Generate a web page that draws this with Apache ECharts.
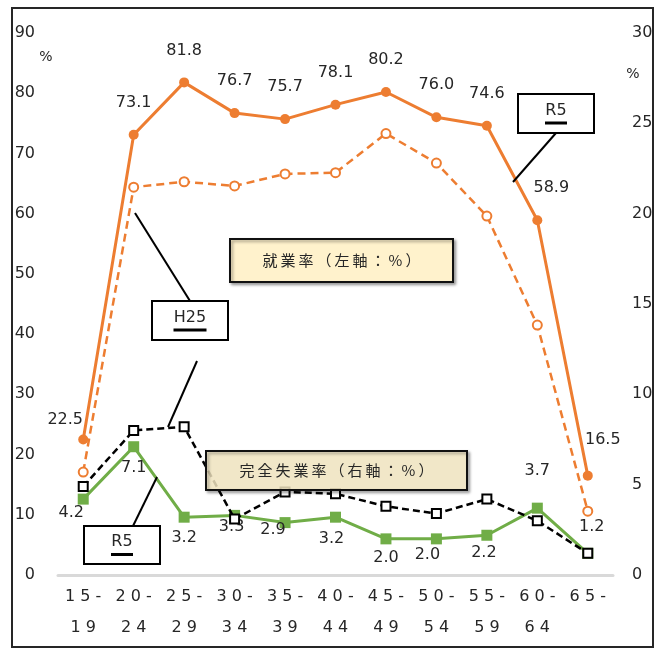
<!DOCTYPE html>
<html>
<head>
<meta charset="utf-8">
<script src="https://cdn.jsdelivr.net/npm/echarts@6/dist/echarts.min.js"></script>
<style>
    html, body { margin: 0; padding: 0; background: #fff; }
    #chart { width: 660px; height: 650px; }
</style>
</head>
<body>
<div id="chart"></div>
<script>
// 年齢階級
const categories = ['15-19', '20-24', '25-29', '30-34', '35-39', '40-44', '45-49', '50-54', '55-59', '60-64', '65-']
// 就業率（左軸：%）
const employR5 = [22.5, 73.1, 81.8, 76.7, 75.7, 78.1, 80.2, 76.0, 74.6, 58.9, 16.5]
const employH25 = [17.1, 64.4, 65.3, 64.6, 66.6, 66.8, 73.3, 68.4, 59.6, 41.5, 10.6]
// 完全失業率（右軸：%）
const unempR5 = [4.2, 7.1, 3.2, 3.3, 2.9, 3.2, 2.0, 2.0, 2.2, 3.7, 1.2]
const unempH25 = [4.9, 8.0, 8.2, 3.1, 4.6, 4.5, 3.8, 3.4, 4.2, 3.0, 1.2]
// 軸目盛
const leftTicks = { min: 0, max: 90, interval: 10 }
const rightTicks = { min: 0, max: 30, interval: 5 }

const ORANGE = '#ED7D31'
const GREEN = '#70AD47'
const TEXT = '#262626'
const NUM_FONT = '"DejaVu Sans", Verdana, sans-serif'
const JP_FONT = '"Noto Sans CJK JP", sans-serif'

// 個別ラベル位置の調整（index -> offset / position）
const employLabelFix = {
    0: { offset: [-18, 12] },
    9: { offset: [14, 0] },
    10: { offset: [15, -4] }
}
const unempLabelFix = {
    0: { offset: [-12, -5] },
    1: { offset: [0, 3] },
    2: { offset: [0, 2] },
    3: { offset: [-3, -7] },
    4: { offset: [-12, -11] },
    5: { offset: [-4, 3] },
    7: { offset: [-9, -3] },
    8: { offset: [-3, -1] },
    9: { position: 'top', distance: 24 },
    10: { position: 'top', distance: 13, offset: [4, 0] }
}

const withLabels = (arr, fix) =>
    arr.map((v, i) => (fix[i] ? { value: v, label: fix[i] } : v))

// 「15-19」→ 2段表示（字間を広めに）
const catFormatter = (val) => {
    const parts = val.split('-')
    const top = (parts[0] + '-').split('').join(' ')
    const bottom = parts[1] ? parts[1].split('').join(' ') : ''
    return top + '\n' + bottom
}
// 注記の字間
const spaced = (s) => s.split('').join('\u2009')

const labelBox = (x, y, w, h, text, uw) => [
    {
        type: 'rect', z: 20,
        shape: { x: x, y: y, width: w, height: h },
        style: { fill: '#fff', stroke: '#000', lineWidth: 2 }
    },
    {
        type: 'text', z: 21, x: x + w / 2, y: y + h / 2 - 3,
        style: { text: text, fill: TEXT, font: '16px ' + NUM_FONT, align: 'center', verticalAlign: 'middle' }
    },
    {
        type: 'rect', z: 21,
        shape: { x: x + w / 2 - uw / 2, y: y + h / 2 + 8, width: uw, height: 3 },
        style: { fill: '#000' }
    }
]
const leader = (x1, y1, x2, y2) => ({
    type: 'line', z: 20,
    shape: { x1: x1, y1: y1, x2: x2, y2: y2 },
    style: { stroke: '#000', lineWidth: 2 }
})
const noteBox = (x, y, w, h, text, fill) => [
    {
        type: 'rect', z: 18,
        shape: { x: x, y: y, width: w, height: h },
        style: {
            fill: fill, stroke: '#111', lineWidth: 2,
            shadowColor: 'rgba(0,0,0,0.35)', shadowBlur: 3, shadowOffsetX: 2, shadowOffsetY: 2
        }
    },
    {
        type: 'text', z: 19, x: x + w / 2, y: y + h / 2,
        style: { text: spaced(text), fill: TEXT, font: '15px ' + JP_FONT, align: 'center', verticalAlign: 'middle' }
    }
]

const chart = echarts.init(document.getElementById('chart'))
const option = {
    animation: false,
    backgroundColor: '#fff',
    grid: { left: 58, right: 47, top: 33, bottom: 75 },
    xAxis: {
        type: 'category',
        data: categories,
        boundaryGap: true,
        axisTick: { show: false },
        axisLine: { lineStyle: { color: '#d9d9d9', width: 3 } },
        axisLabel: {
            formatter: catFormatter,
            color: TEXT,
            fontFamily: NUM_FONT,
            fontSize: 16,
            lineHeight: 31,
            margin: 6,
            interval: 0
        }
    },
    yAxis: [
        {
            type: 'value',
            min: leftTicks.min, max: leftTicks.max, interval: leftTicks.interval,
            splitLine: { show: false },
            axisLine: { show: false },
            axisTick: { show: false },
            axisLabel: { color: TEXT, fontFamily: NUM_FONT, fontSize: 16, margin: 23 }
        },
        {
            type: 'value',
            position: 'right',
            min: rightTicks.min, max: rightTicks.max, interval: rightTicks.interval,
            splitLine: { show: false },
            axisLine: { show: false },
            axisTick: { show: false },
            axisLabel: { color: TEXT, fontFamily: NUM_FONT, fontSize: 16, margin: 19 }
        }
    ],
    series: [
        {
            name: '就業率H25',
            type: 'line',
            yAxisIndex: 0,
            data: employH25,
            symbol: 'emptyCircle',
            symbolSize: 9,
            itemStyle: { color: ORANGE, borderWidth: 2 },
            lineStyle: { color: ORANGE, width: 2.5, type: [8, 5] },
            z: 3
        },
        {
            name: '就業率R5',
            type: 'line',
            yAxisIndex: 0,
            data: withLabels(employR5, employLabelFix),
            symbol: 'circle',
            symbolSize: 10,
            itemStyle: { color: ORANGE },
            lineStyle: { color: ORANGE, width: 3 },
            label: {
                show: true, position: 'top', distance: 19,
                color: TEXT, fontFamily: NUM_FONT, fontSize: 16,
                formatter: (p) => p.value.toFixed(1)
            },
            z: 4
        },
        {
            name: '完全失業率R5',
            type: 'line',
            yAxisIndex: 1,
            data: withLabels(unempR5, unempLabelFix),
            symbol: 'rect',
            symbolSize: 11,
            itemStyle: { color: GREEN },
            lineStyle: { color: GREEN, width: 3 },
            label: {
                show: true, position: 'bottom', distance: 5,
                color: TEXT, fontFamily: NUM_FONT, fontSize: 16,
                formatter: (p) => p.value.toFixed(1)
            },
            z: 3
        },
        {
            name: '完全失業率H25',
            type: 'line',
            yAxisIndex: 1,
            data: unempH25,
            symbol: 'emptyRect',
            symbolSize: 9,
            itemStyle: { color: '#000', borderWidth: 2 },
            lineStyle: { color: '#000', width: 2.5, type: [7, 4] },
            z: 5
        }
    ],
    graphic: [
        {
            type: 'rect', z: 30,
            shape: { x: 12, y: 8, width: 641, height: 639 },
            style: { fill: 'none', stroke: '#262626', lineWidth: 2 }
        },
        {
            type: 'text', x: 46, y: 57,
            style: { text: '%', fill: TEXT, font: '14px ' + NUM_FONT, align: 'center', verticalAlign: 'middle' }
        },
        {
            type: 'text', x: 633, y: 74,
            style: { text: '%', fill: TEXT, font: '14px ' + NUM_FONT, align: 'center', verticalAlign: 'middle' }
        },
        ...noteBox(230, 239, 223, 43, '就業率（左軸：%）', '#FFF2CC'),
        ...noteBox(206, 451, 261, 39, '完全失業率（右軸：%）', 'rgba(255,242,204,0.8)'),
        ...labelBox(518, 94, 76, 39, 'R5', 22),
        leader(556, 133, 513, 182),
        ...labelBox(152, 301, 76, 39, 'H25', 33),
        leader(135, 213, 190, 301),
        leader(197, 361, 168, 427),
        ...labelBox(84, 526, 76, 38, 'R5', 22),
        leader(133, 526, 157, 477)
    ]
}
chart.setOption(option)
</script>
</body>
</html>
